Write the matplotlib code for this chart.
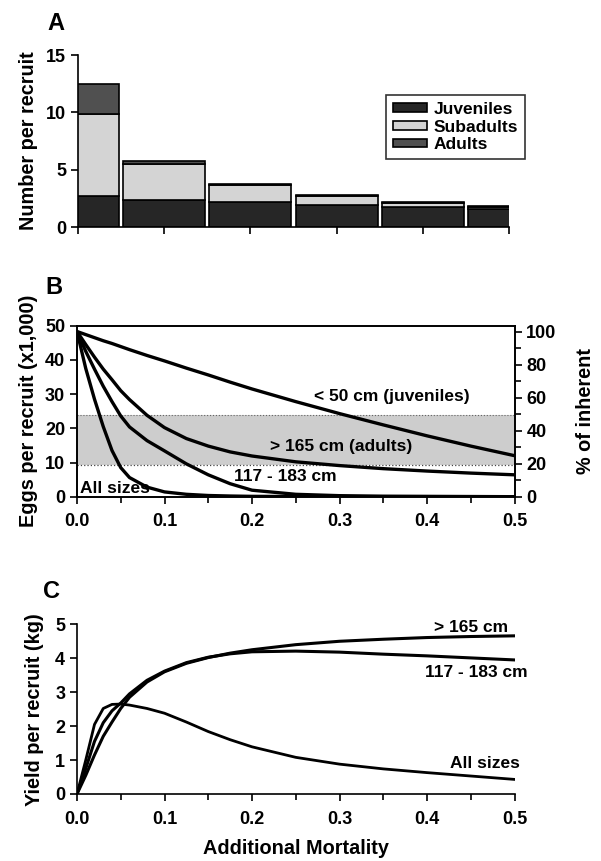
import matplotlib.pyplot as plt
import matplotlib.ticker as mt
import numpy as np

plt.rcParams['font.family'] = ['Liberation Sans', 'DejaVu Sans']
plt.rcParams['font.weight'] = 'bold'

# ---- panel A: numbers per recruit by stage
mort_a = [0.0, 0.1, 0.2, 0.3, 0.4, 0.5]
juveniles = [2.68, 2.39, 2.18, 1.92, 1.75, 1.57]
subadults = [7.17, 3.14, 1.52, 0.76, 0.38, 0.18]
adults = [2.59, 0.24, 0.09, 0.12, 0.05, 0.08]

# ---- panel B: eggs per recruit (x1000)
mort = [0, 0.01, 0.02, 0.03, 0.04, 0.05, 0.06, 0.08, 0.1, 0.125, 0.15,
        0.175, 0.2, 0.25, 0.3, 0.35, 0.4, 0.45, 0.5]
eggs_juv = [48.3, 47.4, 46.5, 45.6, 44.8, 43.9, 43.0, 41.3, 39.7, 37.6, 35.6,
            33.5, 31.5, 27.8, 24.3, 21.0, 17.8, 14.8, 12.0]
eggs_adult = [48.3, 44.5, 40.8, 37.3, 34.2, 31.0, 28.4, 23.8, 20.2, 17.0, 14.8,
              13.1, 11.9, 10.2, 9.1, 8.2, 7.5, 6.9, 6.4]
eggs_slot = [48.3, 42.5, 37.3, 32.3, 27.8, 23.6, 20.4, 16.4, 13.4, 9.6, 6.4,
             3.8, 1.9, 0.7, 0.3, 0.15, 0.1, 0.05, 0.0]
eggs_all = [48.3, 37.5, 28.5, 20.5, 13.5, 8.5, 5.6, 2.8, 1.4, 0.7, 0.35,
            0.2, 0.1, 0.05, 0.0, 0.0, 0.0, 0.0, 0.0]
band = [9.3, 23.8]
inherent = 48.3

# ---- panel C: yield per recruit (kg)
yield_adult = [0, 0.55, 1.15, 1.7, 2.12, 2.52, 2.85, 3.3, 3.6, 3.85, 4.02,
               4.15, 4.25, 4.4, 4.5, 4.56, 4.61, 4.64, 4.66]
yield_slot = [0, 0.75, 1.55, 2.1, 2.45, 2.68, 2.95, 3.35, 3.62, 3.87, 4.03,
              4.13, 4.19, 4.21, 4.18, 4.12, 4.07, 4.01, 3.95]
yield_all = [0, 1.0, 2.05, 2.52, 2.64, 2.65, 2.62, 2.52, 2.38, 2.12, 1.84,
             1.6, 1.39, 1.08, 0.88, 0.74, 0.63, 0.53, 0.43]

fig = plt.figure(figsize=(6.01, 8.61), dpi=100)
W, H = 601, 861


def box(l, t, r, b):
    return [l / W, 1 - b / H, (r - l) / W, (b - t) / H]


fs = 13
lfs = 14.3

# ---------- A
axA = fig.add_axes(box(78, 55, 509, 227))
x = np.array(mort_a)
j, s, a = np.array(juveniles), np.array(subadults), np.array(adults)
bw = 0.095
axA.bar(x, j, bw, color='#262626', edgecolor='black', lw=1.2, label='Juveniles')
axA.bar(x, s, bw, bottom=j, color='#d4d4d4', edgecolor='black', lw=1.2, label='Subadults')
axA.bar(x, a, bw, bottom=j + s, color='#505050', edgecolor='black', lw=1.2, label='Adults')
axA.set_xlim(0, 0.5)
axA.set_ylim(0, 15)
axA.set_yticks([0, 5, 10, 15])
axA.set_xticks(mort_a)
axA.set_xticklabels([])
axA.spines[['top', 'right']].set_visible(False)
axA.set_ylabel('Number per recruit', fontsize=lfs, fontweight='bold', labelpad=6)
leg = axA.legend(loc='upper left', bbox_to_anchor=(0.714, 0.767), borderaxespad=0,
                 fontsize=12.5, frameon=True, fancybox=False, edgecolor='black',
                 handlelength=1.95, handleheight=0.4, handletextpad=0.4,
                 borderpad=0.4, labelspacing=0.15)
leg.get_frame().set_linewidth(1.2)

# ---------- B
axB = fig.add_axes(box(77, 325.7, 514.5, 496.7))
axB.axhspan(band[0], band[1], color='#cdcdcd', lw=0)
axB.axhline(band[0], color='#444444', lw=0.9, ls=':')
axB.axhline(band[1], color='#666666', lw=0.8, ls=':')
for yy in [eggs_juv, eggs_adult, eggs_slot, eggs_all]:
    axB.plot(mort, yy, color='black', lw=2.4, solid_capstyle='butt')
axB.set_xlim(0, 0.5)
axB.set_ylim(0, 50)
axB.set_yticks(range(0, 51, 10))
axB.set_ylabel('Eggs per recruit (x1,000)', fontsize=lfs, fontweight='bold', labelpad=5)
tfs = 12.5
axB.text(0.271, 29.3, '< 50 cm (juveniles)', fontsize=tfs, va='center')
axB.text(0.221, 14.6, '> 165 cm (adults)', fontsize=tfs, va='center')
axB.text(0.180, 6.0, '117 - 183 cm', fontsize=tfs, va='center')
axB.text(0.003, 2.4, 'All sizes', fontsize=tfs, va='center')
axR = axB.twinx()
axR.set_ylim(0, 50 / inherent * 100)
axR.set_yticks(range(0, 101, 20))
axR.yaxis.set_minor_locator(mt.MultipleLocator(10))
axR.set_ylabel('% of inherent', fontsize=lfs, fontweight='bold', labelpad=14)

# ---------- C
axC = fig.add_axes(box(77, 624.3, 514.5, 794))
axC.plot(mort, yield_adult, color='black', lw=2.2)
axC.plot(mort, yield_slot, color='black', lw=2.2)
axC.plot(mort, yield_all, color='black', lw=2.0)
axC.set_xlim(0, 0.5)
axC.set_ylim(0, 5)
axC.set_yticks(range(0, 6))
axC.spines[['top', 'right']].set_visible(False)
axC.set_ylabel('Yield per recruit (kg)', fontsize=lfs, fontweight='bold', labelpad=8)
axC.set_xlabel('Additional Mortality', fontsize=lfs, fontweight='bold', labelpad=8)
axC.text(0.493, 4.92, '> 165 cm', fontsize=tfs, ha='right', va='center')
axC.text(0.515, 3.57, '117 - 183 cm', fontsize=tfs, ha='right', va='center')
axC.text(0.506, 0.91, 'All sizes', fontsize=tfs, ha='right', va='center')

for ax in [axB, axC]:
    ax.xaxis.set_major_locator(mt.MultipleLocator(0.1))
    ax.xaxis.set_minor_locator(mt.MultipleLocator(0.05))
    ax.xaxis.set_major_formatter(mt.FormatStrFormatter('%.1f'))
for ax in [axA, axB, axC, axR]:
    for sp in ax.spines.values():
        sp.set_linewidth(1.2)
    ax.tick_params(which='both', direction='out', labelsize=fs, width=1.2)
    ax.tick_params(which='major', length=5)
    ax.tick_params(which='minor', length=4)
axC.tick_params(axis='x', pad=7)
axB.tick_params(axis='x', pad=7)

fig.text(47 / W, 1 - 24 / H, 'A', fontsize=17, fontweight='bold', va='center')
fig.text(45 / W, 1 - 288 / H, 'B', fontsize=17, fontweight='bold', va='center')
fig.text(43 / W, 1 - 591 / H, 'C', fontsize=17, fontweight='bold', va='center')

fig.savefig('out.png', dpi=100)
